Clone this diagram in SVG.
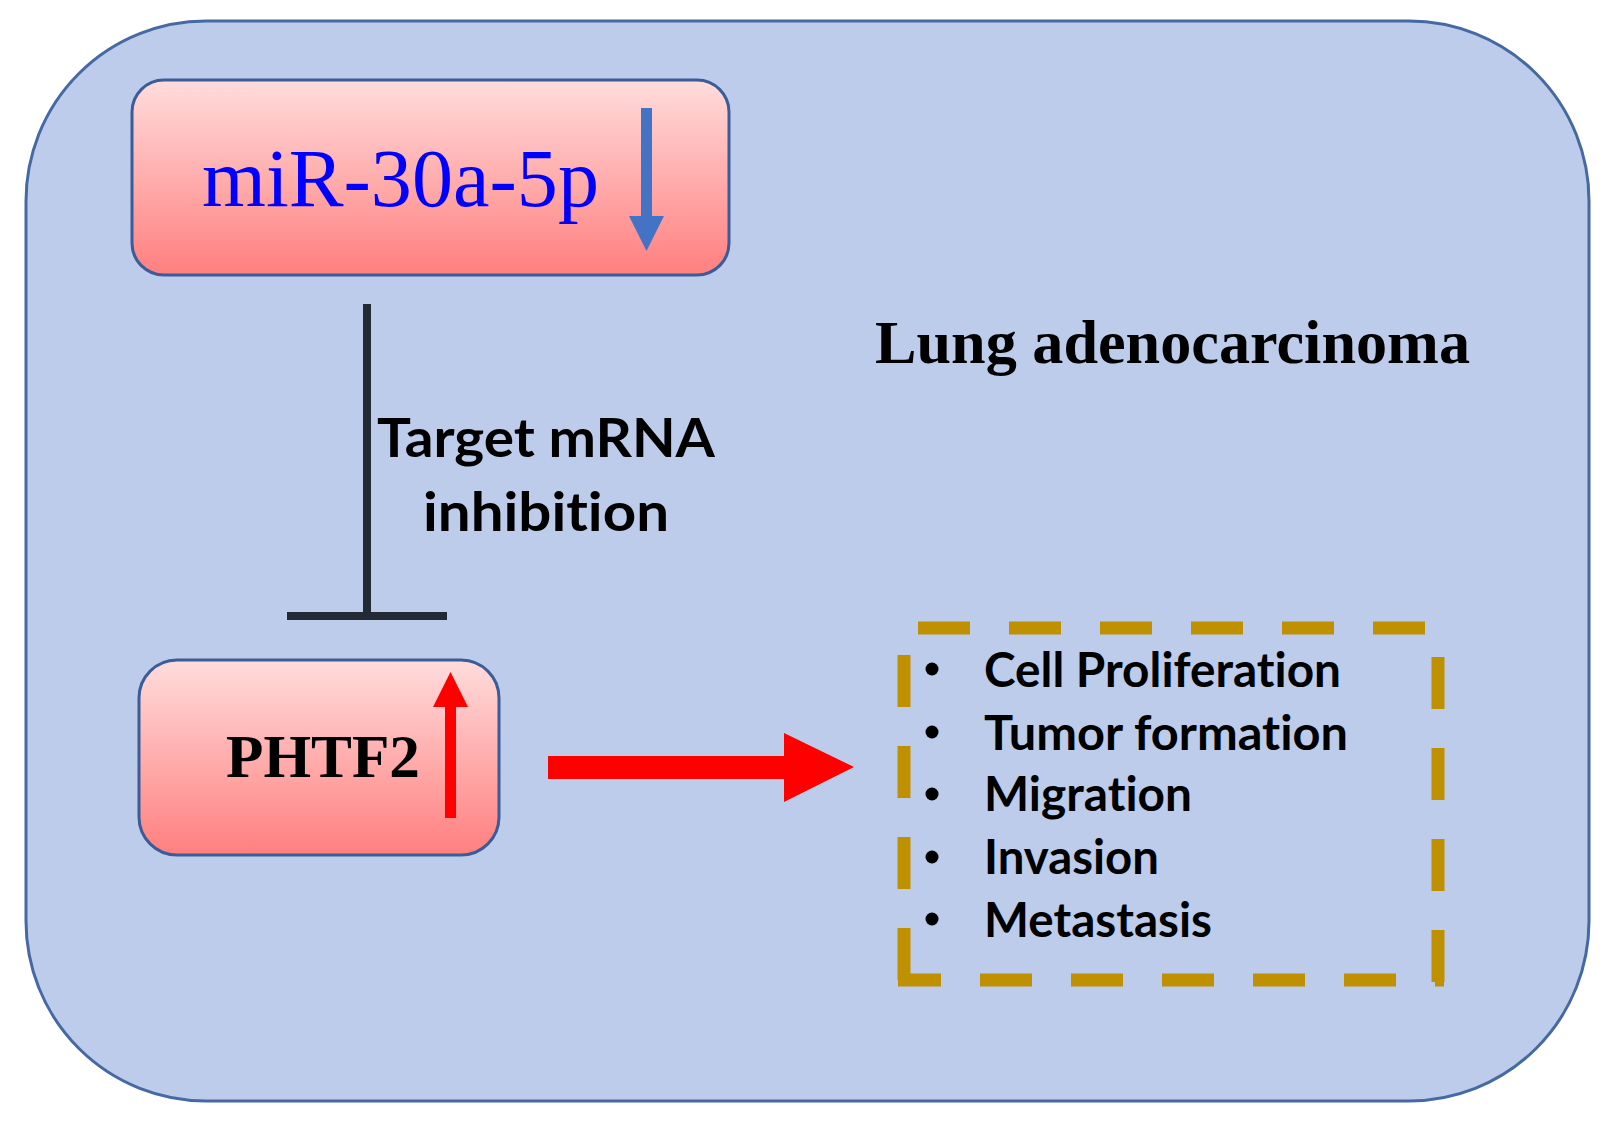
<svg xmlns="http://www.w3.org/2000/svg" width="1612" height="1126" viewBox="0 0 1612 1126">
<defs>
<linearGradient id="pinkGrad" x1="0" y1="0" x2="0" y2="1">
<stop offset="0" stop-color="#FFDCDC"/>
<stop offset="1" stop-color="#FF7F7F"/>
</linearGradient>
<style>
.node { fill: url(#pinkGrad); stroke: #3B5C97; stroke-width: 3; }
.serif { font-family: "Liberation Serif", "Times New Roman", serif; }
.sans { font-family: Lato, "Open Sans", "Liberation Sans", sans-serif; font-weight: bold; fill: #000; font-variant-ligatures: none; font-feature-settings: "liga" 0, "dlig" 0; }
.dash { fill: none; stroke: #BF9000; stroke-width: 13; stroke-dasharray: 52 39; }
</style>
</defs>
<rect width="1612" height="1126" fill="#FFFFFF"/>
<g id="background">
<rect x="26" y="21" width="1563" height="1080" rx="180" ry="180" fill="#BCCCEA" stroke="#4669A3" stroke-width="3"/>
<text class="serif" x="875" y="363" font-size="62" font-weight="bold" fill="#000" textLength="595" lengthAdjust="spacingAndGlyphs">Lung adenocarcinoma</text>
</g>
<g id="node-mir">
<rect class="node" x="132" y="80" width="597" height="195" rx="32" ry="32"/>
<text class="serif" x="202" y="206" font-size="82" fill="#0000FF" textLength="397" lengthAdjust="spacingAndGlyphs">miR-30a-5p</text>
<polygon points="641,108 652,108 652,216 664,216 646.5,251 629,216 641,216" fill="#4472C4"/>
</g>
<g id="node-phtf2">
<rect class="node" x="139" y="660" width="360" height="195" rx="38" ry="38"/>
<text class="serif" x="226" y="777" font-size="61" font-weight="bold" fill="#000" textLength="194" lengthAdjust="spacingAndGlyphs">PHTF2</text>
<polygon points="445,818 456,818 456,707 468,707 450.5,672 433,707 445,707" fill="#FF0000"/>
</g>
<g id="node-outcomes">
<path class="dash" d="M918 628 H1444"/>
<path class="dash" d="M1438 657 V987"/>
<path class="dash" d="M904 655 V987"/>
<path class="dash" d="M898 980 H1444" stroke-dashoffset="9"/>
<g fill="#000">
<circle cx="932" cy="669" r="6.5"/>
<circle cx="932" cy="732" r="6.5"/>
<circle cx="932" cy="794" r="6.5"/>
<circle cx="932" cy="857" r="6.5"/>
<circle cx="932" cy="919" r="6.5"/>
</g>
<text class="sans" x="984" y="687" font-size="47" textLength="357" lengthAdjust="spacingAndGlyphs">Cell Proliferation</text>
<text class="sans" x="984" y="750" font-size="47" textLength="364" lengthAdjust="spacingAndGlyphs">Tumor formation</text>
<text class="sans" x="984" y="811" font-size="47" textLength="208" lengthAdjust="spacingAndGlyphs">Migration</text>
<text class="sans" x="984" y="874" font-size="47" textLength="175" lengthAdjust="spacingAndGlyphs">Invasion</text>
<text class="sans" x="984" y="937" font-size="47" textLength="228" lengthAdjust="spacingAndGlyphs">Metastasis</text>
</g>
<g id="connectors">
<line x1="367" y1="304" x2="367" y2="616" stroke="#222A35" stroke-width="8"/>
<line x1="287" y1="616" x2="447" y2="616" stroke="#222A35" stroke-width="8"/>
<text class="sans" x="546" y="457" font-size="54" text-anchor="middle" textLength="338" lengthAdjust="spacingAndGlyphs">Target mRNA</text>
<text class="sans" x="546" y="531" font-size="54" text-anchor="middle" textLength="246" lengthAdjust="spacingAndGlyphs">inhibition</text>
<polygon points="548,756 784,756 784,733 854,767 784,802 784,779 548,779" fill="#FF0000"/>
</g>
</svg>
